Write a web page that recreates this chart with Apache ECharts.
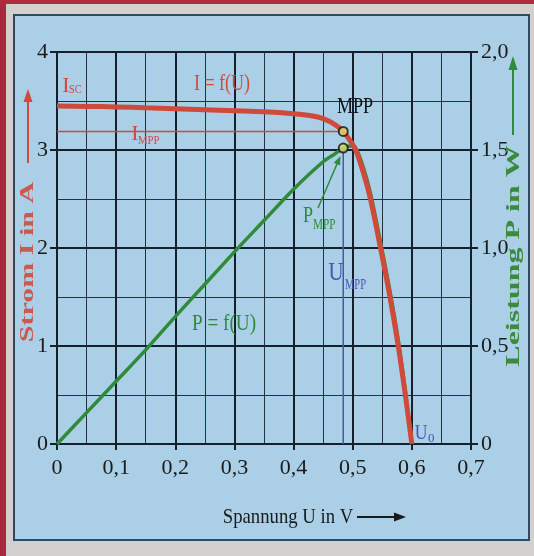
<!DOCTYPE html>
<html><head><meta charset="utf-8">
<script src="https://cdn.jsdelivr.net/npm/echarts@6/dist/echarts.min.js"></script>
<style>html,body{margin:0;padding:0;background:#d3d1cf}#c{width:534px;height:556px}</style>
</head><body><div id="c"></div>
<script>
// ---- data ----
const voltageI = [0, 0.05, 0.1, 0.15, 0.2, 0.25, 0.3, 0.35, 0.4, 0.43, 0.45, 0.47, 0.484, 0.495, 0.505, 0.518, 0.53, 0.547, 0.563, 0.577, 0.589, 0.6];
const current  = [3.45, 3.445, 3.44, 3.43, 3.42, 3.41, 3.40, 3.39, 3.37, 3.35, 3.32, 3.26, 3.19, 3.10, 3.0, 2.77, 2.5, 2.0, 1.5, 1.0, 0.5, 0];
const voltageP = [0, 0.05, 0.1, 0.15, 0.2, 0.25, 0.3, 0.35, 0.4, 0.45, 0.47, 0.484, 0.495, 0.505, 0.518, 0.53, 0.547, 0.563, 0.577, 0.589, 0.6];
const power    = [0, 0.16, 0.32, 0.48, 0.65, 0.815, 0.98, 1.14, 1.30, 1.44, 1.48, 1.51, 1.52, 1.51, 1.41, 1.28, 1.03, 0.78, 0.53, 0.27, 0];
const mppU = 0.484, mppI = 3.19, mppP = 1.51;
const xTickLabels = ['0', '0,1', '0,2', '0,3', '0,4', '0,5', '0,6', '0,7'];
const leftTickLabels = ['0', '1', '2', '3', '4'];
const rightTickLabels = ['0', '0,5', '1,0', '1,5', '2,0'];

const FONT = 'Liberation Serif';
const RED = '#d04a3c', GREEN = '#2f8a3a', BLUE = '#4a55b0', INK = '#14202c';

const chart = echarts.init(document.getElementById('c'), null, {renderer: 'canvas'});

function txt(text, x, y, size, color, opts) {
  opts = opts || {};
  return {type: 'text', x: x, y: y, z: 100, scaleX: opts.sx || 1, scaleY: opts.sy || 1, rotation: opts.rot || 0,
    style: {text: text, fill: color, font: (opts.bold ? 'bold ' : '') + size + 'px "' + FONT + '"',
      textAlign: opts.align || 'left', textVerticalAlign: 'middle'}};
}
function line(x1, y1, x2, y2, color, w) {
  return {type: 'line', z: 100, shape: {x1: x1, y1: y1, x2: x2, y2: y2}, style: {stroke: color, lineWidth: w}};
}
function head(points, color) {
  return {type: 'polygon', z: 100, shape: {points: points}, style: {fill: color}};
}

const option = {
  backgroundColor: '#d3d1cf',
  animation: false,
  grid: {left: 57, right: 63, top: 52, bottom: 112, show: true, borderColor: INK, borderWidth: 2, backgroundColor: 'transparent'},
  xAxis: {
    type: 'value', min: 0, max: 0.7, interval: 0.1,
    axisLine: {show: true, lineStyle: {color: INK, width: 2}},
    axisTick: {show: true, length: 6, lineStyle: {color: INK, width: 2}},
    axisLabel: {margin: 13, fontFamily: FONT, fontSize: 22, color: '#1a1a1a',
      formatter: v => xTickLabels[Math.round(v * 10)]},
    splitLine: {show: true, lineStyle: {color: INK, width: 2}},
    minorTick: {show: false, splitNumber: 2},
    minorSplitLine: {show: true, lineStyle: {color: '#23323f', width: 1}}
  },
  yAxis: [{
    type: 'value', min: 0, max: 4, interval: 1, position: 'left',
    axisLine: {show: true, lineStyle: {color: INK, width: 2}},
    axisTick: {show: true, length: 7, lineStyle: {color: INK, width: 2}},
    axisLabel: {margin: 9, fontFamily: FONT, fontSize: 22, color: '#1a1a1a',
      formatter: v => leftTickLabels[Math.round(v)]},
    splitLine: {show: true, lineStyle: {color: INK, width: 2}},
    minorTick: {show: false, splitNumber: 2},
    minorSplitLine: {show: true, lineStyle: {color: '#23323f', width: 1}}
  }, {
    type: 'value', min: 0, max: 2, interval: 0.5, position: 'right',
    axisLine: {show: true, lineStyle: {color: INK, width: 2}},
    axisTick: {show: true, length: 7, lineStyle: {color: INK, width: 2}},
    axisLabel: {margin: 10, fontFamily: FONT, fontSize: 22, color: '#1a1a1a',
      formatter: v => rightTickLabels[Math.round(v * 2)]},
    splitLine: {show: false}
  }],
  series: [
    {type: 'line', name: 'P', yAxisIndex: 1, z: 3, smooth: 0.3, symbol: 'none',
      lineStyle: {color: GREEN, width: 3.5}, data: voltageP.map((u, i) => [u, power[i]])},
    {type: 'line', name: 'I', yAxisIndex: 0, z: 4, smooth: 0.3, symbol: 'none',
      lineStyle: {color: RED, width: 5}, data: voltageI.map((u, i) => [u, current[i]])},
    {type: 'line', name: 'Impp', yAxisIndex: 0, z: 2, symbol: 'none',
      lineStyle: {color: RED, width: 1.5}, data: [[0, mppI], [mppU, mppI]]},
    {type: 'line', name: 'Umpp', yAxisIndex: 1, z: 2, symbol: 'none',
      lineStyle: {color: BLUE, width: 1.5}, data: [[mppU, 0], [mppU, mppP]]},
    {type: 'scatter', yAxisIndex: 0, z: 6, symbolSize: 9,
      itemStyle: {color: '#e4dc6a', borderColor: '#111', borderWidth: 2}, data: [[mppU, mppI]]},
    {type: 'scatter', yAxisIndex: 1, z: 6, symbolSize: 9,
      itemStyle: {color: '#e4dc6a', borderColor: '#111', borderWidth: 2}, data: [[mppU, mppP]]}
  ],
  graphic: [
    // outer frame
    {type: 'rect', z: -10, silent: true, shape: {x: 0, y: 0, width: 6, height: 556}, style: {fill: '#a82a3e'}},
    {type: 'rect', z: -10, silent: true, shape: {x: 0, y: 0, width: 534, height: 4}, style: {fill: '#b02a40'}},
    {type: 'rect', z: -9, silent: true, shape: {x: 14, y: 15, width: 515, height: 525},
      style: {fill: '#aacfe6', stroke: '#2e4a5c', lineWidth: 2}},
    // left axis name + arrow
    line(28, 163, 28, 98, RED, 2),
    head([[23.5, 102], [32.5, 102], [28, 89]], RED),
    txt('Strom I in A', 28, 262, 30, '#c95a52', {rot: Math.PI / 2, sy: 0.6, align: 'center', bold: true}),
    // right axis name + arrow
    line(513, 135, 513, 66, GREEN, 2),
    head([[508.5, 70], [517.5, 70], [513, 56]], GREEN),
    txt('Leistung P in W', 514, 256, 32, '#3a8a40', {rot: Math.PI / 2, sy: 0.6, align: 'center', bold: true}),
    // x axis name + arrow
    txt('Spannung U in V', 288, 517, 22, '#1a1a1a', {sx: 0.85, align: 'center'}),
    line(357, 517, 396, 517, '#1a1a1a', 2),
    head([[394, 512.5], [394, 521.5], [406, 517]], '#1a1a1a'),
    // annotations
    txt('I', 66, 86, 22, RED, {align: 'center'}),
    txt('SC', 69, 90, 12, RED, {sx: 0.85}),
    txt('I = f(U)', 222, 84, 24, RED, {sx: 0.75, align: 'center'}),
    txt('I', 135, 134, 22, RED, {align: 'center'}),
    txt('MPP', 138, 141, 12, RED, {sx: 0.9}),
    txt('MPP', 355, 107, 24, '#111', {sx: 0.75, align: 'center'}),
    txt('P', 308, 216, 24, GREEN, {sx: 0.75, align: 'center'}),
    txt('MPP', 313, 225, 15, GREEN, {sx: 0.75}),
    line(318, 208, 337, 164, GREEN, 1.5),
    head([[340.5, 156], [340.1, 165.6], [333.7, 162.8]], GREEN),
    txt('U', 336, 273, 26, BLUE, {sx: 0.8, align: 'center'}),
    txt('MPP', 345, 285, 15, BLUE, {sx: 0.7}),
    txt('U', 421, 433, 22, BLUE, {sx: 0.8, align: 'center'}),
    txt('0', 428, 439, 13, BLUE),
    txt('P = f(U)', 224, 324, 24, GREEN, {sx: 0.8, align: 'center'})
  ]
};
chart.setOption(option);
</script>
</body></html>
